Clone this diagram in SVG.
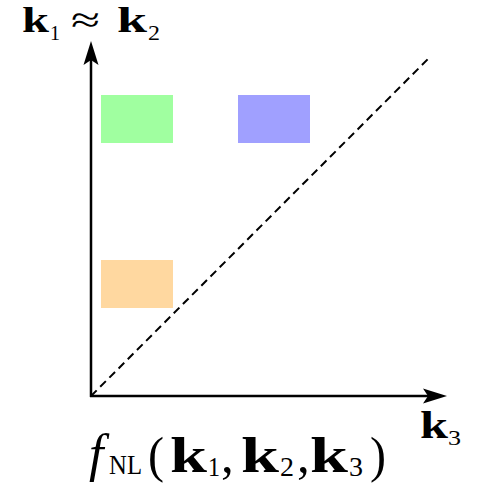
<svg xmlns="http://www.w3.org/2000/svg" width="487" height="490" viewBox="0 0 487 490">
<style>
.ax{stroke:#000;stroke-width:2.5;fill:none}
.t{font-family:"Liberation Serif","DejaVu Serif",serif;fill:#000}
.b{font-weight:bold}
</style>
<defs>
<marker id="ah" markerWidth="25" markerHeight="16" refX="5" refY="7.5" orient="auto" markerUnits="userSpaceOnUse" overflow="visible">
<path d="M0,0 L24,7.5 L0,15 L5,7.5 Z" fill="#000"/>
</marker>
</defs>
<rect width="487" height="490" fill="#fff"/>
<g id="green"><rect x="101" y="95" width="72" height="48" fill="#a0ffa0"/></g>
<g id="blue"><rect x="238" y="95" width="72" height="48" fill="#a0a0ff"/></g>
<g id="orange"><rect x="101" y="260" width="72" height="48" fill="#ffd8a0"/></g>
<g id="connectors">
<line x1="91" y1="397" x2="91" y2="60" class="ax" marker-end="url(#ah)"/>
<line x1="90" y1="396" x2="428" y2="396" class="ax" marker-end="url(#ah)"/>
<line x1="91" y1="396" x2="430" y2="57" stroke="#000" stroke-width="2" stroke-dasharray="8,5"/>
</g>
<g id="label-y">
<text class="t b" x="22" y="32" font-size="36" textLength="27" lengthAdjust="spacingAndGlyphs">k</text>
<text class="t" x="50" y="40" font-size="22" textLength="10" lengthAdjust="spacingAndGlyphs">1</text>
<text class="t" x="71" y="32" font-size="36" textLength="29" lengthAdjust="spacingAndGlyphs">≈</text>
<text class="t b" x="117" y="32" font-size="36" textLength="30" lengthAdjust="spacingAndGlyphs">k</text>
<text class="t" x="148" y="40" font-size="22" textLength="12" lengthAdjust="spacingAndGlyphs">2</text>
</g>
<g id="label-x">
<text class="t b" x="420" y="438" font-size="37" textLength="28" lengthAdjust="spacingAndGlyphs">k</text>
<text class="t" x="448" y="445" font-size="22" textLength="13" lengthAdjust="spacingAndGlyphs">3</text>
</g>
<g id="label-f">
<text class="t" x="89" y="471" font-size="52" font-style="italic">f</text>
<text class="t" x="109" y="474" font-size="28" textLength="33" lengthAdjust="spacingAndGlyphs">NL</text>
<text class="t" x="148" y="472" font-size="51" textLength="16" lengthAdjust="spacingAndGlyphs">(</text>
<text class="t b" x="170" y="472" font-size="51" textLength="37" lengthAdjust="spacingAndGlyphs">k</text>
<text class="t" x="208" y="476" font-size="27" textLength="12" lengthAdjust="spacingAndGlyphs">1</text>
<text class="t" x="221" y="472" font-size="51">,</text>
<text class="t b" x="241" y="472" font-size="51" textLength="38" lengthAdjust="spacingAndGlyphs">k</text>
<text class="t" x="280" y="476" font-size="27" textLength="14" lengthAdjust="spacingAndGlyphs">2</text>
<text class="t" x="297" y="472" font-size="51">,</text>
<text class="t b" x="310" y="472" font-size="51" textLength="38" lengthAdjust="spacingAndGlyphs">k</text>
<text class="t" x="349" y="476" font-size="27" textLength="14" lengthAdjust="spacingAndGlyphs">3</text>
<text class="t" x="370" y="472" font-size="51" textLength="16" lengthAdjust="spacingAndGlyphs">)</text>
</g>
</svg>
